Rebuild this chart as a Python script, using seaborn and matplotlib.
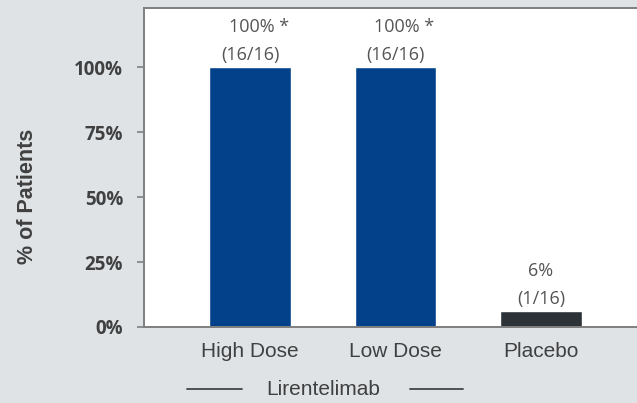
import numpy as np
import pandas as pd
import matplotlib
matplotlib.use("Agg")
import matplotlib.pyplot as plt
import matplotlib.transforms as mtransforms
import seaborn as sns

groups = ["High Dose", "Low Dose", "Placebo"]
pct = [1.00, 1.00, 0.0625]
top_labels = ["100% *", "100% *", "6%"]
count_labels = ["(16/16)", "(16/16)", "(1/16)"]
bar_colors = ["#03418b", "#03418b", "#2c3338"]
yticks = [0, 0.25, 0.5, 0.75, 1.0]
ytick_labels = ["0%", "25%", "50%", "75%", "100%"]

bg = "#dfe3e6"
txt = "#404040"
open_sans = ["Open Sans", "DejaVu Sans"]

sns.set_theme(style="white")
plt.rcParams['font.family'] = ['Liberation Sans', 'DejaVu Sans']

df = pd.DataFrame({"group": groups, "pct": pct})

fig = plt.figure(figsize=(6.37, 4.03), dpi=100, facecolor=bg)
ax = fig.add_axes([144/637, 76/403, 493/637, 319/403])
ax.set_facecolor("white")

sns.barplot(data=df, x="group", y="pct", hue="group", palette=bar_colors,
            width=0.56, legend=False, ax=ax, saturation=1)

ax.set_xlim(-0.729, 2.66)
ax.set_ylim(0, 1.227)

ax.set_yticks(yticks)
ax.set_yticklabels(ytick_labels, fontsize=13.5, fontweight="bold", color=txt,
                   family=open_sans)
ax.tick_params(axis="y", left=True, length=5, width=1.2, color="#808080", pad=10)
ax.tick_params(axis="x", length=0, pad=11, labelsize=15, labelcolor=txt)
ax.set_xlabel("")
ax.set_ylabel("% of Patients", fontsize=15.5, fontweight="bold", color=txt)
ax.yaxis.set_label_coords(-0.215, 0.41)

for side in ["left", "bottom", "top"]:
    ax.spines[side].set_visible(True)
    ax.spines[side].set_color("#7f7f7f")
    ax.spines[side].set_linewidth(1.4)
ax.spines["right"].set_visible(False)

for i, (v, a, b) in enumerate(zip(pct, top_labels, count_labels)):
    # the asterisk hangs off the right of the centred percentage
    dx = 0.062 if a.endswith("*") else 0.0
    ax.text(i, v + 0.012, b, ha="center", va="bottom", fontsize=13, color="#555555",
            family=open_sans)
    ax.text(i + dx, v + 0.118, a, ha="center", va="bottom", fontsize=13, color="#555555",
            family=open_sans)

# Lirentelimab bracket under the two active doses
trans = mtransforms.blended_transform_factory(ax.transData, ax.transAxes)
yb = -0.195
ax.plot([-0.433, -0.055], [yb, yb], color="#505050", lw=1.4, transform=trans, clip_on=False)
ax.plot([1.10, 1.464], [yb, yb], color="#505050", lw=1.4, transform=trans, clip_on=False)
ax.text(0.5, yb, "Lirentelimab", ha="center", va="center", fontsize=15, color=txt,
        transform=trans)

fig.savefig("out.png", dpi=100, facecolor=bg)
